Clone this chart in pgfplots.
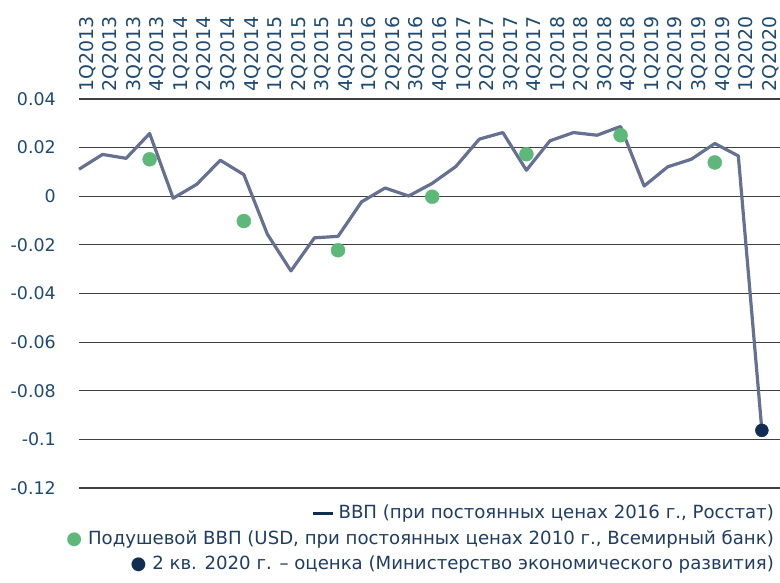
\documentclass[border=0pt]{standalone}
\usepackage{fontspec}
\setmainfont{DejaVu Sans}
\usepackage{pgfplots}
\pgfplotsset{compat=1.18}
\usetikzlibrary{calc}

\definecolor{tickblue}{HTML}{1E4A72}
\definecolor{gdpline}{HTML}{667091}
\definecolor{capgreen}{HTML}{5DB879}
\definecolor{estnavy}{HTML}{102E52}
\definecolor{legtext}{HTML}{1F3D63}

\begin{document}
\begin{tikzpicture}
\begin{axis}[
  scale only axis,
  width=701bp, height=389bp,
  xmin=0, xmax=29.77,
  ymin=-0.12, ymax=0.04,
  axis line style={draw=none},
  tick style={draw=none},
  major tick length=0pt,
  ymajorgrids,
  grid style={black!75, line width=1.2bp},
  ytick={-0.12,-0.1,-0.08,-0.06,-0.04,-0.02,0,0.02,0.04},
  yticklabels={-0.12,-0.1,-0.08,-0.06,-0.04,-0.02,0,0.02,0.04},
  scaled y ticks=false,
  yticklabel style={font=\fontsize{17.5}{20}\selectfont, text=tickblue, anchor=east, inner sep=0pt},
  yticklabel shift=23bp,
  xtick={0,...,29},
  xticklabels={1Q2013,2Q2013,3Q2013,4Q2013,1Q2014,2Q2014,3Q2014,4Q2014,
    1Q2015,2Q2015,3Q2015,4Q2015,1Q2016,2Q2016,3Q2016,4Q2016,
    1Q2017,2Q2017,3Q2017,4Q2017,1Q2018,2Q2018,3Q2018,4Q2018,
    1Q2019,2Q2019,3Q2019,4Q2019,1Q2020,2Q2020},
  xticklabel pos=right,
  xticklabel style={font=\fontsize{19}{21}\selectfont, text=tickblue, rotate=90, anchor=north west, inner sep=0pt},
  xticklabel shift=7bp,
  /pgf/number format/assume math mode=true,
  clip=false,
  legend style={at={(1,0)}, anchor=north east, xshift=-4bp, yshift=-15bp,
    draw=none, fill=none, font=\fontsize{18.2}{21}\selectfont, text=legtext,
    row sep=6bp, inner sep=0pt},
  legend cell align=right,
]
\addplot[forget plot, gdpline, line width=3.2bp, line join=round, mark=none] coordinates {
  (0,0.0111) (1,0.0172) (2,0.0156) (3,0.0258) (4,-0.0008) (5,0.0049)
  (6,0.0148) (7,0.0089) (8,-0.0156) (9,-0.0307) (10,-0.0171) (11,-0.0165)
  (12,-0.0023) (13,0.0034) (14,0.0001) (15,0.0053) (16,0.0122) (17,0.0235)
  (18,0.0262) (19,0.0107) (20,0.0228) (21,0.0262) (22,0.0251) (23,0.0287)
  (24,0.0042) (25,0.0121) (26,0.0152) (27,0.0217) (28,0.0166) (29,-0.0963)
};
\addplot[forget plot, only marks, mark=*, mark size=7bp, color=capgreen, mark options={draw=capgreen, fill=capgreen}] coordinates {
  (3,0.0152) (7,-0.0102) (11,-0.0222) (15,-0.0002) (19,0.0173) (23,0.0251) (27,0.0139)
};
\addplot[forget plot, only marks, mark=*, mark size=6.5bp, color=estnavy, mark options={draw=estnavy, fill=estnavy}] coordinates {
  (29,-0.0963)
};
\addlegendimage{empty legend}
\addlegendentry{\textcolor{estnavy}{\rule[0.22em]{1.1em}{0.18em}} ВВП (при постоянных ценах 2016 г., Росстат)}
\addlegendimage{empty legend}
\addlegendentry{\textcolor{capgreen}{●} Подушевой ВВП (USD, при постоянных ценах 2010 г., Всемирный банк)}
\addlegendimage{empty legend}
\addlegendentry{\textcolor{estnavy}{●} 2 кв. 2020 г. – оценка (Министерство экономического развития)}
\end{axis}
\pgfresetboundingbox
\path[use as bounding box] ($(current axis.south west)+(-79bp,-95bp)$) rectangle ($(current axis.north east)+(0bp,99bp)$);
\end{tikzpicture}
\end{document}
